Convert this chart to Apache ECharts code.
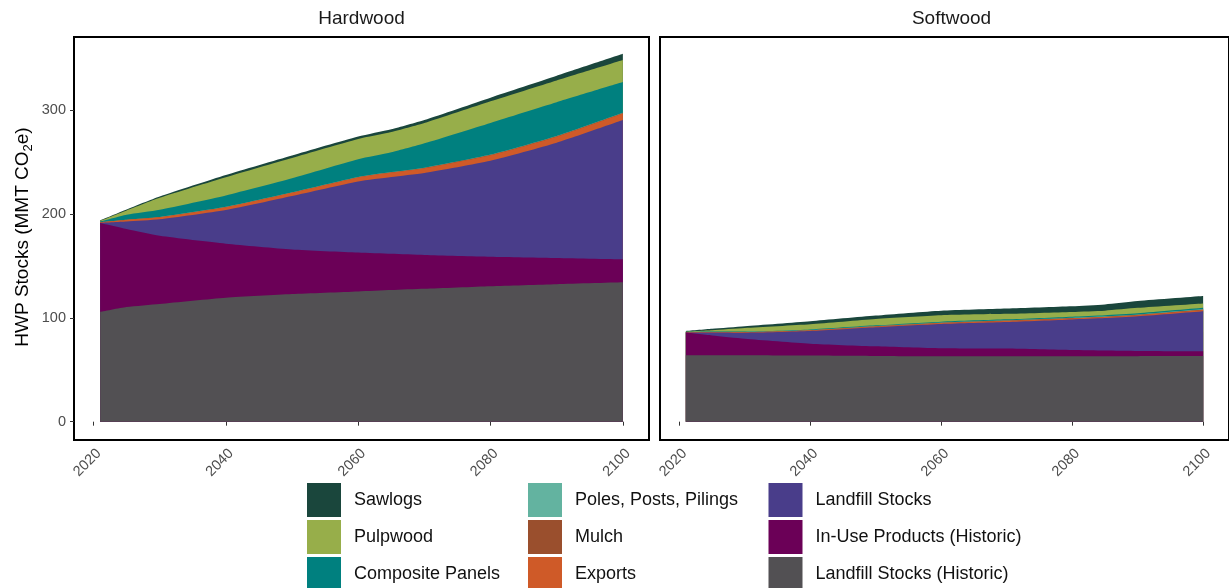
<!DOCTYPE html>
<html>
<head>
<meta charset="utf-8">
<script src="https://cdn.jsdelivr.net/npm/echarts@6/dist/echarts.min.js"></script>
<style>
  html, body { margin: 0; padding: 0; background: #fff; }
  #chart { width: 1229px; height: 588px; }
</style>
</head>
<body>
<div id="chart"></div>
<script>
// Harvested wood product carbon stocks, stacked by pool (MMT CO2e)
const hwYears = [2021, 2025, 2030, 2040, 2050, 2060, 2065, 2070, 2080, 2090, 2100];
const swYears = [2021, 2025, 2030, 2040, 2050, 2060, 2070, 2080, 2085, 2090, 2100];

// Hardwood pools (bottom of stack first)
const hwLandfillHistoric = [105.8, 110.5, 113.5, 119.5, 123.0, 125.5, 126.8, 128.0, 130.5, 132.5, 134.3];
const hwInUseHistoric    = [85.6, 75.1, 65.6, 52.0, 43.0, 37.5, 35.0, 32.7, 28.5, 25.3, 22.2];
const hwLandfill         = [0.3, 7.4, 16.0, 32.5, 51.5, 68.5, 74.0, 79.0, 92.5, 111.0, 134.2];
const hwExports          = [0.4, 1.4, 1.8, 2.6, 3.0, 3.8, 4.2, 4.5, 5.2, 5.8, 6.3];
const hwMulch            = [0.1, 0.1, 0.2, 0.2, 0.3, 0.3, 0.3, 0.3, 0.4, 0.4, 0.4];
const hwPoles            = [0.1, 0.1, 0.1, 0.2, 0.2, 0.2, 0.2, 0.2, 0.3, 0.3, 0.3];
const hwComposite        = [0.5, 4.8, 7.0, 11.0, 13.5, 17.0, 19.0, 23.5, 30.5, 32.5, 29.5];
const hwPulpwood         = [0.7, 4.1, 11.5, 17.5, 19.5, 19.5, 19.5, 19.5, 20.8, 21.0, 21.3];
const hwSawlogs          = [0.5, 1.0, 1.3, 2.2, 2.5, 2.5, 2.8, 3.0, 3.5, 4.5, 6.0];

// Softwood pools (bottom of stack first)
const swLandfillHistoric = [63.9, 64.1, 64.1, 63.7, 63.3, 63.0, 63.0, 63.1, 63.1, 63.1, 63.2];
const swInUseHistoric    = [22.0, 19.0, 15.9, 11.5, 9.3, 7.7, 7.4, 5.9, 5.4, 5.0, 4.6];
const swLandfill         = [0.1, 2.9, 5.8, 12.2, 18.4, 23.5, 25.7, 29.5, 31.3, 33.5, 38.7];
const swExports          = [0.2, 0.3, 0.4, 0.5, 0.6, 0.8, 0.9, 0.9, 1.0, 1.0, 1.1];
const swMulch            = [0.1, 0.1, 0.2, 0.2, 0.3, 0.3, 0.4, 0.4, 0.4, 0.4, 0.5];
const swPoles            = [0.1, 0.1, 0.1, 0.2, 0.2, 0.3, 0.3, 0.3, 0.3, 0.3, 0.4];
const swComposite        = [0.1, 0.3, 0.3, 0.6, 0.7, 0.8, 0.9, 1.1, 1.1, 1.2, 1.2];
const swPulpwood         = [0.5, 1.4, 3.5, 5.0, 6.2, 6.2, 5.3, 4.6, 4.4, 5.2, 4.2];
const swSawlogs          = [0.4, 1.3, 1.7, 2.9, 3.3, 4.4, 5.2, 5.5, 6.0, 6.5, 7.1];

const poolNames = [
  'Landfill Stocks (Historic)', 'In-Use Products (Historic)', 'Landfill Stocks',
  'Exports', 'Mulch', 'Poles, Posts, Pilings', 'Composite Panels', 'Pulpwood', 'Sawlogs'
];
const poolColors = [
  '#525053', '#6B0057', '#493D8A',
  '#CF5A28', '#9A4F2D', '#63B3A0', '#00807F', '#97AE4A', '#1A463C'
];
const hwPools = [hwLandfillHistoric, hwInUseHistoric, hwLandfill, hwExports, hwMulch, hwPoles, hwComposite, hwPulpwood, hwSawlogs];
const swPools = [swLandfillHistoric, swInUseHistoric, swLandfill, swExports, swMulch, swPoles, swComposite, swPulpwood, swSawlogs];

const panelTitles = ['Hardwood', 'Softwood'];
const xTicks = [2020, 2040, 2060, 2080, 2100];
const yTicks = [0, 100, 200, 300];

const FONT = '"Liberation Sans", Arial, sans-serif';
const xMin = 2017.05, xMax = 2103.95;
const yMin = -17.65, yMax = 370.65;

function pairs(years, vals) { return years.map((y, i) => [y, vals[i]]); }

// Each pool is drawn as an area from zero up to its running total; the
// series are emitted from the top of the stack downwards so every lower
// pool paints over the part of the area above it that it covers.
function makeSeries(pools, years, axisIndex) {
  const totals = [];
  let running = years.map(() => 0);
  pools.forEach(vals => {
    running = running.map((r, i) => r + vals[i]);
    totals.push(running);
  });
  return pools.map((_, k) => k).reverse().map(k => ({
    name: poolNames[k],
    type: 'line',
    xAxisIndex: axisIndex,
    yAxisIndex: axisIndex,
    data: pairs(years, totals[k]),
    symbol: 'none',
    showSymbol: false,
    smooth: 0.2,
    lineStyle: { width: 0, color: poolColors[k] },
    itemStyle: { color: poolColors[k] },
    areaStyle: { color: poolColors[k], opacity: 1 },
    emphasis: { disabled: true },
    silent: true
  }));
}

const grids = [
  { left: 74, top: 37, width: 575, height: 403 },
  { left: 660, top: 37, width: 575, height: 403 }
].map(g => Object.assign(g, { show: true, borderColor: '#000', borderWidth: 2, backgroundColor: 'transparent', containLabel: false }));

function xAxisFor(i) {
  return {
    type: 'value', gridIndex: i, min: xMin, max: xMax,
    axisLine: { show: false },
    splitLine: { show: false },
    axisTick: { show: true, customValues: xTicks, length: 4, lineStyle: { color: '#333', width: 1 } },
    axisLabel: {
      customValues: xTicks, rotate: 45, margin: 6,
      verticalAlign: 'top',
      fontSize: 14.5, color: '#4D4D4D', fontFamily: FONT,
      formatter: v => String(v)
    }
  };
}
function yAxisFor(i) {
  const shown = i === 0;
  return {
    type: 'value', gridIndex: i, min: yMin, max: yMax,
    axisLine: { show: false },
    splitLine: { show: false },
    axisTick: { show: shown, customValues: yTicks, length: 4, lineStyle: { color: '#333', width: 1 } },
    axisLabel: {
      show: shown, customValues: yTicks, margin: 8,
      fontSize: 14.5, color: '#4D4D4D', fontFamily: FONT,
      formatter: v => String(v)
    }
  };
}

const legendCols = [
  { left: 307, names: ['Sawlogs', 'Pulpwood', 'Composite Panels'] },
  { left: 528, names: ['Poles, Posts, Pilings', 'Mulch', 'Exports'] },
  { left: 768.5, names: ['Landfill Stocks', 'In-Use Products (Historic)', 'Landfill Stocks (Historic)'] }
];

const option = {
  animation: false,
  backgroundColor: '#fff',
  grid: grids,
  xAxis: [xAxisFor(0), xAxisFor(1)],
  yAxis: [yAxisFor(0), yAxisFor(1)],
  legend: legendCols.map(c => ({
    orient: 'vertical',
    left: c.left, top: 483,
    height: 130,
    padding: 0,
    itemGap: 3,
    itemWidth: 34, itemHeight: 34,
    icon: 'rect',
    selectedMode: false,
    data: c.names,
    itemStyle: { borderWidth: 0 },
    textStyle: { fontSize: 18, color: '#111', fontFamily: FONT, padding: [0, 0, 0, 8] }
  })),
  graphic: [
    ...panelTitles.map((t, i) => ({
      type: 'text',
      x: grids[i].left + 287.5 + (i === 1 ? 4 : 0), y: 19,
      style: { text: t, fontSize: 19, fill: '#1A1A1A', fontFamily: FONT, textAlign: 'center', textVerticalAlign: 'middle' },
      silent: true
    })),
    {
      type: 'text',
      x: 23, y: 237,
      rotation: Math.PI / 2,
      style: {
        text: '{n|HWP Stocks (MMT CO}{s|2}{n|e)}',
        textAlign: 'center', textVerticalAlign: 'middle',
        rich: {
          n: { fontSize: 19, fill: '#000', fontFamily: FONT, lineHeight: 24 },
          s: { fontSize: 13, fill: '#000', fontFamily: FONT, lineHeight: 13, verticalAlign: 'bottom' }
        }
      },
      silent: true
    }
  ],
  series: [
    ...makeSeries(hwPools, hwYears, 0),
    ...makeSeries(swPools, swYears, 1)
  ]
};

const chart = echarts.init(document.getElementById('chart'), null, { renderer: 'canvas' });
chart.setOption(option);
</script>
</body>
</html>
